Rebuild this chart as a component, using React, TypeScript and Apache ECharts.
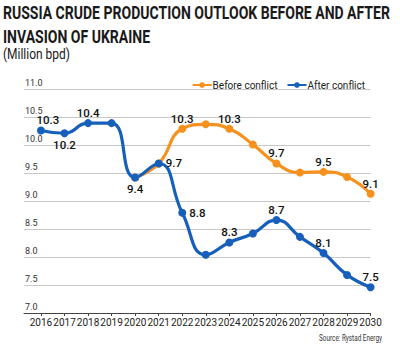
import React, { useEffect, useRef } from "react";
import * as echarts from "echarts";

const years = [2016, 2017, 2018, 2019, 2020, 2021, 2022, 2023, 2024, 2025, 2026, 2027, 2028, 2029, 2030];
const afterConflict = [10.26, 10.21, 10.39, 10.39, 9.42, 9.67, 8.79, 8.04, 8.26, 8.42, 8.66, 8.36, 8.07, 7.68, 7.46];
const beforeYears = [2020, 2021, 2022, 2023, 2024, 2025, 2026, 2027, 2028, 2029, 2030];
const beforeConflict = [9.42, 9.67, 10.29, 10.37, 10.29, 10.01, 9.67, 9.51, 9.52, 9.43, 9.13];
const yTicks = [7.0, 7.5, 8.0, 8.5, 9.0, 9.5, 10.0, 10.5, 11.0];
const titleLines = ["RUSSIA CRUDE PRODUCTION OUTLOOK BEFORE AND AFTER", "INVASION OF UKRAINE"];
const subtitle = "(Million bpd)";
const sourceNote = "Source: Rystad Energy";
// labelled points: year -> label placement
const afterLabels: Record<number, string> = { 2016: "topR", 2017: "bottom", 2018: "top", 2020: "bottom", 2021: "right", 2022: "right", 2024: "top", 2026: "top", 2028: "top", 2030: "top" };
const beforeLabels: Record<number, string> = { 2022: "top", 2024: "top", 2026: "top", 2028: "top", 2030: "top" };

const FONT = "Roboto, 'DejaVu Sans Condensed', sans-serif";
const ORANGE = "#f7911e";
const BLUE = "#1660bb";

function measure(text: string, font: string): number {
  const c = document.createElement("canvas").getContext("2d")!;
  c.font = font;
  return c.measureText(text).width;
}

function buildData(xs: number[], ys: number[], labels: Record<number, string>) {
  return xs.map((x, i) => {
    const pos = labels[x];
    const item: any = { value: [x, ys[i]] };
    if (pos) {
      const position = pos === "topR" ? "top" : pos;
      item.label = {
        show: true,
        position,
        distance: position === "top" ? 0 : position === "bottom" ? 2 : 3,
        offset: pos === "topR" ? [7, 0] : [0, 0],
      };
    }
    return item;
  });
}

export default function App() {
  const ref = useRef<HTMLDivElement>(null);
  useEffect(() => {
    const chart = echarts.init(ref.current!, null, { renderer: "svg" });
    const tFont = "bold 18px Roboto";
    const t1w = measure(titleLines[0], tFont);
    const tScale = 387 / t1w;
    const sFont = "14px Roboto";
    const sScale = 67 / measure(subtitle, sFont);
    const srcFont = "9.5px Roboto";
    const srcScale = 63 / measure(sourceNote, srcFont);

    const labelStyle = {
      show: false,
      formatter: (p: any) => p.value[1].toFixed(1),
      fontFamily: FONT,
      fontSize: 11.5,
      fontWeight: 500,
      color: "#111",
    };
    chart.setOption({
      animation: false,
      backgroundColor: "#fff",
      textStyle: { fontFamily: FONT },
      legend: {
        top: 75,
        right: 30,
        itemWidth: 19,
        itemHeight: 7,
        itemGap: 9,
        textStyle: { fontFamily: FONT, fontSize: 10, color: "#222", padding: [0, 0, 0, -4] },
        data: ["Before conflict", "After conflict"],
      },
      grid: { left: 24, right: 29.4, top: 89, bottom: 41 },
      xAxis: {
        type: "value",
        min: 2015.28,
        max: 2030,
        splitLine: { show: false },
        axisLine: { lineStyle: { color: "#444", width: 1 } },
        axisTick: { show: true, customValues: years, length: 3, lineStyle: { color: "#444" } },
        axisLabel: {
          customValues: years,
          showMinLabel: true,
          showMaxLabel: true,
          hideOverlap: false,
          formatter: (v: number) => String(v),
          fontFamily: FONT,
          fontSize: 10,
          color: "#222",
          margin: 4,
        },
      },
      yAxis: {
        type: "value",
        min: 7,
        max: 11,
        interval: 0.5,
        axisLine: { show: false },
        axisTick: { show: false },
        splitLine: { lineStyle: { color: "#c8c8c8", width: 1 } },
        axisLabel: {
          inside: true,
          margin: 1,
          verticalAlign: "bottom",
          padding: [0, 0, 2, 0],
          formatter: (v: number) => (yTicks.includes(v) ? v.toFixed(1) : ""),
          fontFamily: FONT,
          fontSize: 9,
          color: "#333",
        },
      },
      series: [
        {
          name: "Before conflict",
          type: "line",
          smooth: 0.5,
          symbol: "circle",
          symbolSize: 8,
          color: ORANGE,
          lineStyle: { width: 3.2, color: ORANGE },
          itemStyle: { color: ORANGE },
          label: labelStyle,
          data: buildData(beforeYears, beforeConflict, beforeLabels),
          z: 2,
        },
        {
          name: "After conflict",
          type: "line",
          smooth: 0.5,
          symbol: "circle",
          symbolSize: 8,
          color: BLUE,
          lineStyle: { width: 3.2, color: BLUE },
          itemStyle: { color: BLUE },
          label: labelStyle,
          data: buildData(years, afterConflict, afterLabels),
          z: 3,
        },
      ],
      graphic: [
        {
          type: "text", x: 3, y: 4, scaleX: tScale,
          style: { text: titleLines[0], font: tFont, fill: "#1a1a1a", verticalAlign: "top" },
        },
        {
          type: "text", x: 3, y: 28, scaleX: tScale,
          style: { text: titleLines[1], font: tFont, fill: "#1a1a1a", verticalAlign: "top" },
        },
        {
          type: "text", x: 3, y: 47, scaleX: sScale,
          style: { text: subtitle, font: sFont, fill: "#1a1a1a", verticalAlign: "top" },
        },
        {
          type: "text", x: 382, y: 333, scaleX: srcScale,
          style: { text: sourceNote, font: srcFont, fill: "#333", align: "right", verticalAlign: "top" },
        },
      ],
    });
    return () => chart.dispose();
  }, []);
  return <div ref={ref} style={{ width: 400, height: 354, position: "absolute", left: 0, top: 0 }} />;
}
